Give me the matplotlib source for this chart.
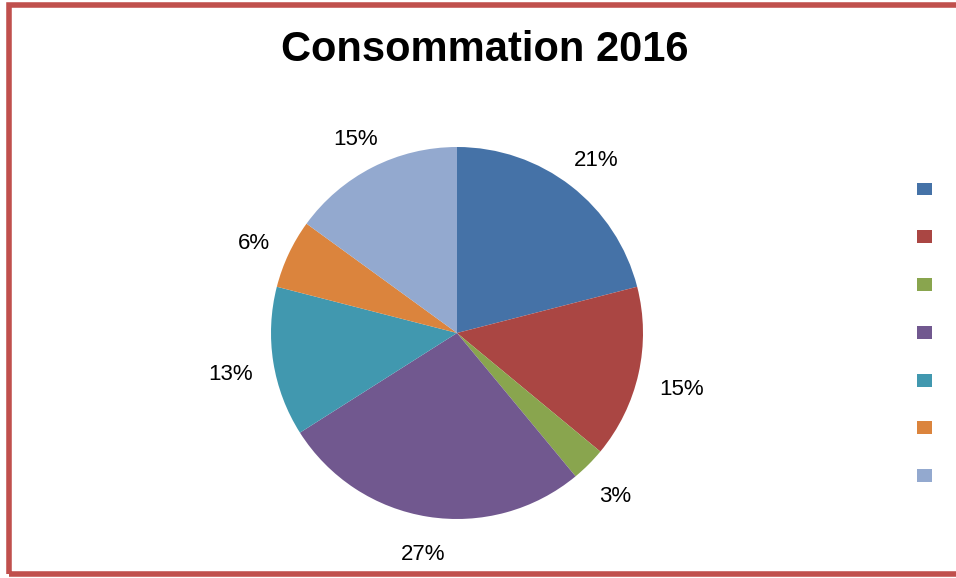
import numpy as np
import matplotlib.pyplot as plt
from matplotlib.patches import Rectangle

# data
categories = ["A", "B", "C", "D", "E", "F", "G"]
values = [21, 15, 3, 27, 13, 6, 15]
colors = ["#4572A7", "#AA4643", "#89A54E", "#71588F", "#4198AF", "#DB843D", "#93A9CF"]

W, H = 956, 578
fig = plt.figure(figsize=(W / 100, H / 100), dpi=100)

# red frame (right side runs off the image)
fig.add_artist(Rectangle((8.5 / W, 4.5 / H), 1.2, (H - 9) / H,
                         transform=fig.transFigure, fill=False,
                         edgecolor="#C0504D", linewidth=4))

cx, cy, r = 457, 333, 186
ax = fig.add_axes([(cx - r) / W, (H - cy - r) / H, 2 * r / W, 2 * r / H])

wedges, texts, autotexts = ax.pie(
    values, colors=colors, startangle=90, counterclock=False,
    autopct="%1.0f%%", pctdistance=1.2,
    textprops={"fontsize": 16, "family": "Liberation Sans", "color": "black"},
)
ax.set_xlim(-1, 1)
ax.set_ylim(-1, 1)
ax.set_aspect("equal")
ax.axis("off")

# "outside end" labels: push each label box out until it clears the pie by a gap
fig.canvas.draw()
renderer = fig.canvas.get_renderer()
gap = 206
for w, t in zip(wedges, autotexts):
    ang = np.deg2rad((w.theta1 + w.theta2) / 2)
    c, s = np.cos(ang), np.sin(ang)
    bb = t.get_window_extent(renderer)
    dist = gap + bb.width / 2 * abs(c) + bb.height / 2 * 0.8 * abs(s)
    # small downward nudge so the glyphs (not the text box) are centred
    t.set_position((dist / r * c, (dist * s - 6) / r))
    t.set_ha("center")
    t.set_va("center")

fig.text(485 / W, 1 - 50 / H, "Consommation 2016", ha="center", va="center",
         fontsize=30, fontweight="bold", family="Liberation Sans")

fig.legend(wedges, [""] * len(categories), loc="center left",
           bbox_to_anchor=(917 / W, 1 - 333 / H), frameon=False,
           fontsize=10, handlelength=1.05, handleheight=1.05,
           labelspacing=2.42, borderpad=0, borderaxespad=0, handletextpad=0.3)

fig.savefig("out.png", dpi=100)
